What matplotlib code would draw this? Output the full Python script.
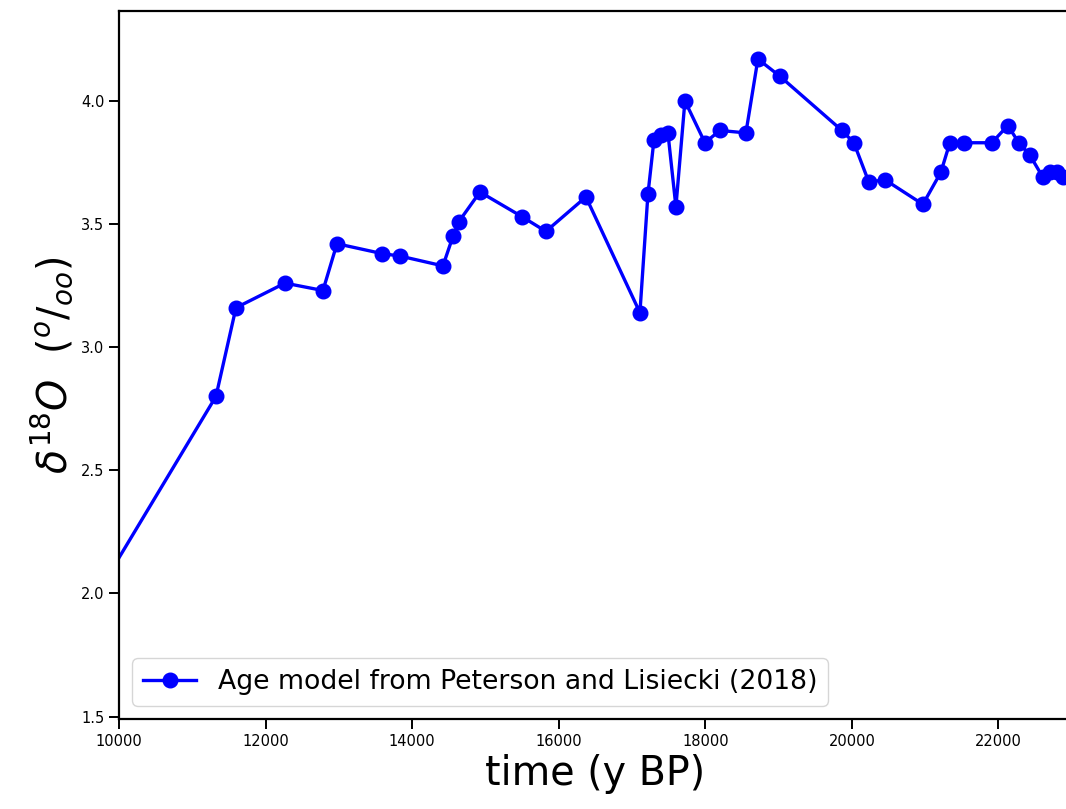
import matplotlib
matplotlib.use("Agg")
import matplotlib.pyplot as plt

# Data (time in years BP, d18O in permil)
time_bp = [8940, 11323, 11596, 12265, 12783, 12974, 13588, 13834, 14420, 14557,
           14638, 14925, 15498, 15825, 16371, 17108, 17217, 17299, 17394, 17490,
           17599, 17722, 17995, 18199, 18554, 18718, 19018, 19864, 20027, 20232,
           20450, 20969, 21214, 21337, 21528, 21910, 22128, 22278, 22428, 22606,
           22701, 22797, 22879, 23000]
d18o = [1.62, 2.80, 3.16, 3.26, 3.23, 3.42, 3.38, 3.37, 3.33, 3.45,
        3.51, 3.63, 3.53, 3.47, 3.61, 3.14, 3.62, 3.84, 3.86, 3.87,
        3.57, 4.00, 3.83, 3.88, 3.87, 4.17, 4.10, 3.88, 3.83, 3.67,
        3.68, 3.58, 3.71, 3.83, 3.83, 3.83, 3.90, 3.83, 3.78, 3.69,
        3.71, 3.71, 3.69, 3.70]
series_label = "Age model from Peterson and Lisiecki (2018)"
x_ticks = [10000, 12000, 14000, 16000, 18000, 20000, 22000]
y_ticks = [1.5, 2.0, 2.5, 3.0, 3.5, 4.0]

W, H = 1066, 809
fig = plt.figure(figsize=(W / 100, H / 100), dpi=100)
ax = fig.add_axes([119 / W, (H - 719) / H, (1071 - 119) / W, (719 - 11) / H])

ax.plot(time_bp, d18o, color="blue", marker="o", linewidth=2.4,
        markersize=10.5, label=series_label)

ax.set_xlim(10000, 22990)
ax.set_ylim(1.49, 4.365)
ax.set_xticks(x_ticks)
ax.set_yticks(y_ticks)
ax.tick_params(labelsize=10.5, length=7, width=1.4)
for s in ax.spines.values():
    s.set_linewidth(1.6)

ax.set_xlabel("time (y BP)", fontsize=28.5)
ax.set_ylabel(r"$\delta^{18}O\ \ (^o/_{oo})$", fontsize=28.5)
ax.legend(loc="lower left", fontsize=19.2)

fig.savefig("out.png", dpi=100)
